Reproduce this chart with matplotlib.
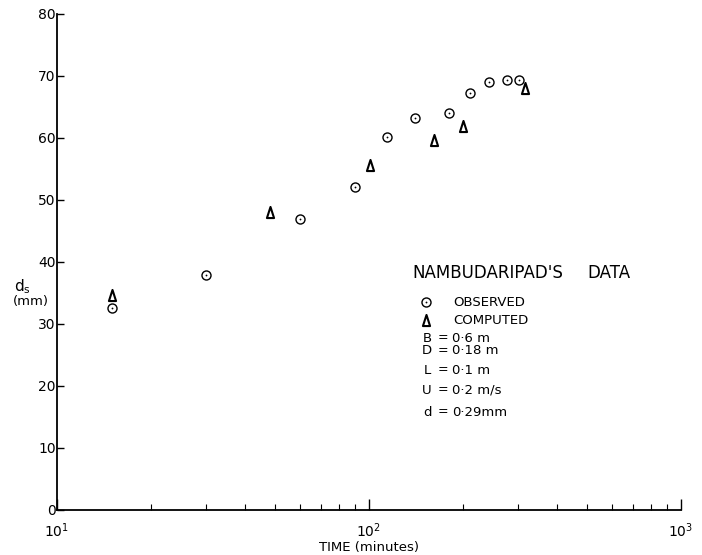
import matplotlib
matplotlib.use("Agg")
import matplotlib.pyplot as plt
from matplotlib.path import Path
from matplotlib.ticker import LogLocator, NullFormatter

# Scour depth d_s (mm) against time (minutes)
obs_time = [15, 30, 60, 90, 114, 140, 180, 211, 243, 278, 303]
obs_depth = [32.6, 37.9, 46.9, 52.1, 60.2, 63.3, 64.1, 67.3, 69.1, 69.3, 69.3]

comp_time = [15, 48, 101, 162, 200, 316]
comp_depth = [34.6, 48.0, 55.6, 59.7, 62.0, 68.0]

params = [("B", "0·6 m"), ("D", "0·18 m"), ("L", "0·1 m"), ("U", "0·2 m/s"), ("d", "0·29mm")]

plt.rcParams["font.family"] = ["DejaVu Sans"]

fig = plt.figure(figsize=(7.02, 5.55), dpi=100)
ax = fig.add_axes([0.0812, 0.0811, 0.8888, 0.8937])

ax.set_xscale("log")
ax.set_xlim(10, 1000)
ax.set_ylim(0, 80)

# narrow open triangle, like a hand-lettered delta
tri = Path([(-0.32, -0.5), (0.32, -0.5), (0.0, 0.5), (-0.32, -0.5)],
           [Path.MOVETO, Path.LINETO, Path.LINETO, Path.CLOSEPOLY])

ax.plot(obs_time, obs_depth, ls="none", marker="o", ms=6.5, mfc="none",
        mec="black", mew=1.0, clip_on=False)
ax.plot(obs_time, obs_depth, ls="none", marker="o", ms=1.3, mfc="black",
        mec="black", mew=0, clip_on=False)
ax.plot(comp_time, comp_depth, ls="none", marker=tri, ms=8, mfc="none",
        mec="black", mew=1.5, clip_on=False)

for s in ("top", "right"):
    ax.spines[s].set_visible(False)
for s in ("left", "bottom"):
    ax.spines[s].set_linewidth(1.3)

ax.set_yticks(range(0, 81, 10))
ax.tick_params(axis="y", direction="in", length=5, width=1.0, labelsize=10, pad=1)
ax.xaxis.set_major_locator(LogLocator(base=10, numticks=5))
ax.xaxis.set_minor_locator(LogLocator(base=10, subs=range(2, 10), numticks=20))
ax.xaxis.set_minor_formatter(NullFormatter())
ax.tick_params(axis="x", which="major", direction="in", length=8, width=1.0,
               labelsize=10, pad=8)
ax.tick_params(axis="x", which="minor", direction="in", length=4, width=0.8)

ax.set_xlabel("TIME (minutes)", fontsize=9.5, labelpad=1)

fig.text(22 / 702, 1 - 287 / 555, "$\\mathregular{d_s}$", fontsize=11,
         ha="center", va="center")
fig.text(31 / 702, 1 - 302 / 555, "(mm)", fontsize=9.5, ha="center", va="center")

def fx(px):
    return px / 702

def fy(py):
    return 1 - py / 555

fig.text(fx(412), fy(273), "NAMBUDARIPAD'S", fontsize=12, ha="left", va="center")
fig.text(fx(587), fy(273), "DATA", fontsize=12, ha="left", va="center")

# legend symbols drawn in figure coordinates
fig.lines.append(plt.Line2D([fx(426)], [fy(302)], transform=fig.transFigure,
                            ls="none", marker="o", ms=6.5, mfc="none", mec="black", mew=1.0))
fig.lines.append(plt.Line2D([fx(426)], [fy(302)], transform=fig.transFigure,
                            ls="none", marker="o", ms=1.3, mfc="black", mec="black", mew=0))
fig.lines.append(plt.Line2D([fx(426)], [fy(320)], transform=fig.transFigure,
                            ls="none", marker=tri, ms=8, mfc="none", mec="black", mew=1.5))
fig.text(fx(453), fy(302), "OBSERVED", fontsize=9.5, ha="left", va="center")
fig.text(fx(453), fy(321), "COMPUTED", fontsize=9.5, ha="left", va="center")

rows_y = [338, 351, 370, 390, 412]
for (sym, val), yy in zip(params, rows_y):
    fig.text(fx(427), fy(yy), sym, fontsize=9.5, ha="center", va="center")
    fig.text(fx(443), fy(yy), "=", fontsize=9, ha="center", va="center")
    fig.text(fx(452), fy(yy), val, fontsize=9.5, ha="left", va="center")

fig.savefig("out.png", dpi=100)
